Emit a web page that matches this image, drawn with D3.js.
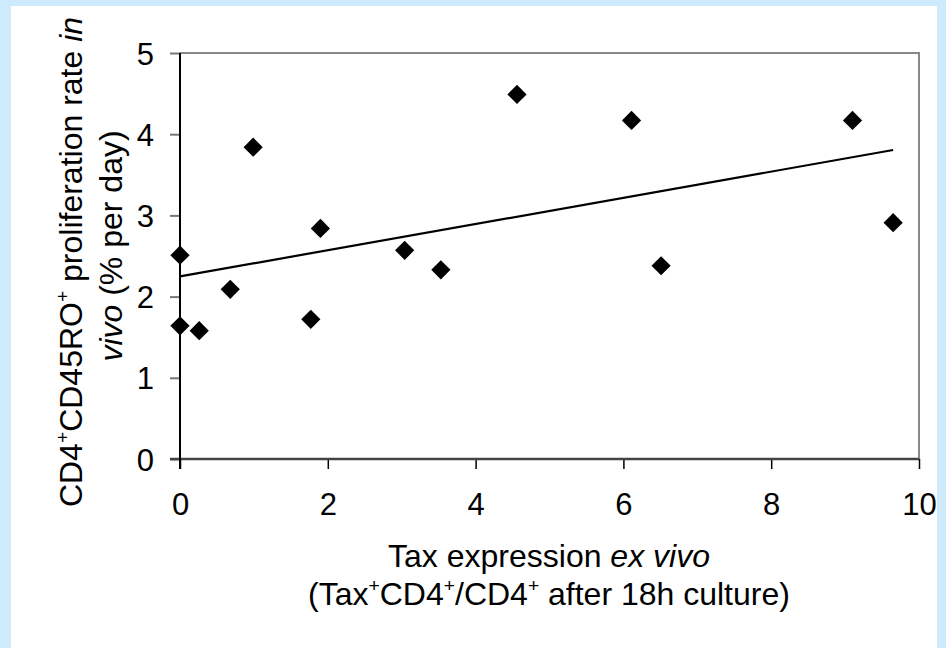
<!DOCTYPE html>
<html>
<head>
<meta charset="utf-8">
<script src="https://cdn.jsdelivr.net/npm/d3@7"></script>
<style>
  html, body { margin: 0; padding: 0; background: #cdebfd; }
  svg { display: block; }
  text { font-family: "Liberation Sans", Arial, sans-serif; fill: #000; }
</style>
</head>
<body>
<svg id="chart" width="946" height="648"></svg>
<script>
// ---- data ----
const taxExpression = [0, 0, 0.26, 0.68, 0.99, 1.77, 1.90, 3.04, 3.53, 4.56, 6.11, 6.51, 9.10, 9.65];
const proliferation = [2.51, 1.64, 1.58, 2.09, 3.84, 1.72, 2.84, 2.57, 2.33, 4.49, 4.17, 2.38, 4.17, 2.91];
const xTicks = [0, 2, 4, 6, 8, 10];
const yTicks = [0, 1, 2, 3, 4, 5];
const xDomain = [0, 10];
const yDomain = [0, 5];

const points = taxExpression.map((x, i) => ({ x, y: proliferation[i] }));

// ---- layout ----
const svg = d3.select("#chart");
const W = 946, H = 648;
const plot = { left: 180, top: 53, right: 919, bottom: 459 };
const tickFont = 31;
const titleFont = 32;

svg.append("rect").attr("x", 11).attr("y", 6).attr("width", 926).attr("height", H - 6).attr("fill", "#fff");

const x = d3.scaleLinear().domain(xDomain).range([plot.left, plot.right]);
const y = d3.scaleLinear().domain(yDomain).range([plot.bottom, plot.top]);

// frame top & right (grey)
svg.append("path")
  .attr("d", `M${plot.left},${plot.top}H${plot.right}V${plot.bottom}`)
  .attr("fill", "none").attr("stroke", "#888").attr("stroke-width", 2);

// y axis
const yAxis = svg.append("g").attr("transform", `translate(${plot.left},0)`)
  .call(d3.axisLeft(y).tickValues(yTicks).tickSize(10).tickPadding(16).tickFormat(d3.format("d")));
yAxis.select(".domain").remove();
yAxis.selectAll(".tick line").attr("stroke", "#777").attr("stroke-width", 2);
yAxis.selectAll(".tick text").attr("font-size", tickFont).attr("font-family", "Liberation Sans, Arial, sans-serif").attr("dy", "0.36em");

// x axis
const xAxis = svg.append("g").attr("transform", `translate(0,${plot.bottom})`)
  .call(d3.axisBottom(x).tickValues(xTicks).tickSize(10).tickPadding(24).tickFormat(d3.format("d")));
xAxis.select(".domain").remove();
xAxis.selectAll(".tick line").attr("stroke", "#000").attr("stroke-width", 1.5);
xAxis.selectAll(".tick text").attr("font-size", tickFont).attr("font-family", "Liberation Sans, Arial, sans-serif").attr("dy", "0.71em");

// axis lines
svg.append("line").attr("x1", plot.left - 10).attr("x2", plot.right).attr("y1", plot.bottom).attr("y2", plot.bottom)
  .attr("stroke", "#444").attr("stroke-width", 2.5);
svg.append("line").attr("x1", plot.left).attr("x2", plot.left).attr("y1", plot.top).attr("y2", plot.bottom + 10)
  .attr("stroke", "#000").attr("stroke-width", 2);

// regression line
const mx = d3.mean(points, d => d.x), my = d3.mean(points, d => d.y);
const slope = d3.sum(points, d => (d.x - mx) * (d.y - my)) / d3.sum(points, d => (d.x - mx) ** 2);
const intercept = my - slope * mx;
const xExt = d3.extent(points, d => d.x);
svg.append("path")
  .datum(xExt.map(v => ({ x: v, y: intercept + slope * v })))
  .attr("d", d3.line().x(d => x(d.x)).y(d => y(d.y)))
  .attr("fill", "none").attr("stroke", "#000").attr("stroke-width", 2.2);

// markers
svg.append("g").selectAll("path").data(points).join("path")
  .attr("d", d3.symbol().type(d3.symbolSquare).size(185))
  .attr("transform", d => `translate(${x(d.x)},${y(d.y)}) rotate(45)`)
  .attr("fill", "#000");

// helper for superscripts
function addRich(textSel, parts, fs) {
  parts.forEach(p => {
    const t = textSel.append("tspan").text(p.t);
    if (p.i) t.attr("font-style", "italic");
    if (p.sup) t.attr("font-size", fs * 0.6).attr("dy", -fs * 0.42);
    if (p.after) t.attr("dy", fs * 0.42);
  });
}

// x axis title
const xt1 = svg.append("text").attr("x", 549).attr("y", 567).attr("text-anchor", "middle").attr("font-size", titleFont);
addRich(xt1, [{ t: "Tax expression " }, { t: "ex vivo", i: true }], titleFont);
const xt2 = svg.append("text").attr("x", 549).attr("y", 605).attr("text-anchor", "middle").attr("font-size", titleFont);
addRich(xt2, [
  { t: "(Tax" }, { t: "+", sup: true }, { t: "CD4", after: true }, { t: "+", sup: true },
  { t: "/CD4", after: true }, { t: "+", sup: true }, { t: " after 18h culture)", after: true }
], titleFont);

// y axis title
const yt1 = svg.append("text").attr("transform", "translate(82,262) rotate(-90)").attr("text-anchor", "middle").attr("font-size", titleFont);
addRich(yt1, [
  { t: "CD4" }, { t: "+", sup: true }, { t: "CD45RO", after: true }, { t: "+", sup: true },
  { t: " proliferation rate ", after: true }, { t: "in", i: true }
], titleFont);
const yt2 = svg.append("text").attr("transform", "translate(122,246) rotate(-90)").attr("text-anchor", "middle").attr("font-size", titleFont);
addRich(yt2, [{ t: "vivo", i: true }, { t: " (% per day)" }], titleFont);
</script>
</body>
</html>
